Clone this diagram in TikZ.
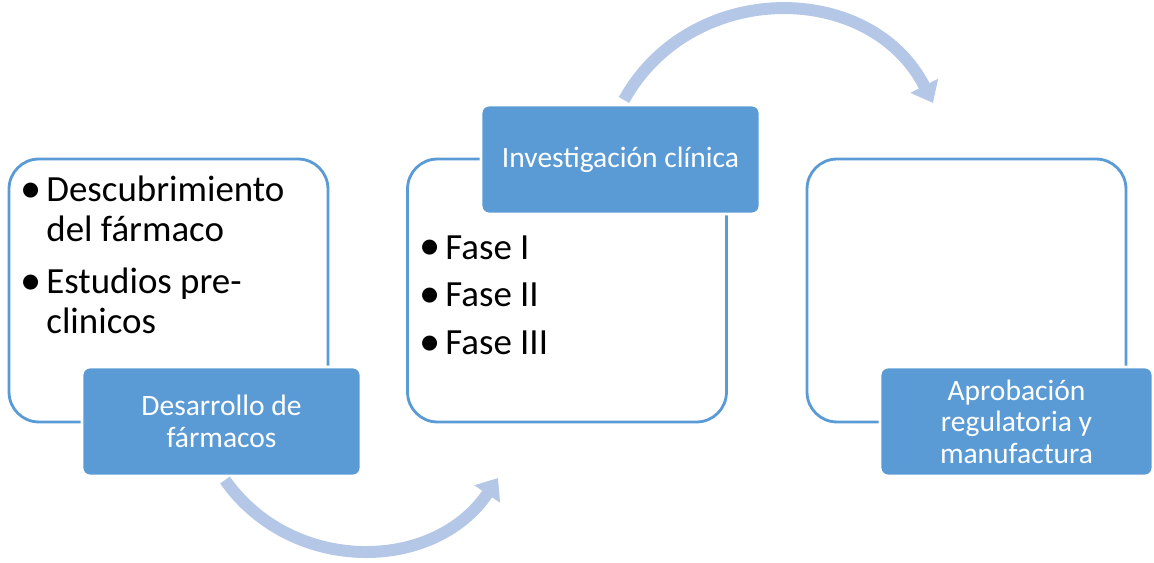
\documentclass[tikz,border=0pt]{standalone}
\usepackage{fontspec}
\usepackage{graphicx}
\setmainfont{Carlito}
\usetikzlibrary{arrows.meta, positioning, calc}
\definecolor{stepblue}{HTML}{5B9BD5}
\definecolor{flowblue}{HTML}{B4C7E7}
\newcommand{\bitem}[1]{\makebox[12pt][l]{\kern-2.5pt\raisebox{-0.5pt}{\scalebox{1.15}{\textbullet}}}\parbox[t]{5.2cm}{\raggedright #1}}

\begin{document}
\begin{tikzpicture}[x=0.02cm, y=0.02cm,
    outerbox/.style={draw=stepblue, line width=1.6pt, rounded corners=17pt,
        minimum width=6.38cm, minimum height=5.26cm},
    labelbox/.style={fill=stepblue, draw=white, line width=1.6pt, rounded corners=4.5pt,
        minimum width=5.58cm, minimum height=2.18cm, text=white, align=center,
        font=\fontsize{16.8}{18}\selectfont},
    bullets/.style={anchor=north west, inner sep=0pt, align=left,
        font=\fontsize{21}{22.7}\selectfont},
    flow/.style={draw=flowblue, line width=6.8pt, -{Triangle[width=17pt,length=11pt]}}]
\useasboundingbox (0,0) rectangle (1154,562);

% the three stages
\node[outerbox] (box1) at (168.5,271.5) {};
\node[outerbox] (box2) at (567,271.5) {};
\node[outerbox] (box3) at (966.5,271.5) {};

\node[labelbox] (lab1) at (221.5,140.5) {Desarrollo de\\fármacos};
\node[labelbox] (lab2) at (620.5,402.5) {Investigación clínica};
\node[labelbox, minimum width=5.46cm] (lab3) at (1016.5,140.5) {Aprobación\\regulatoria y\\manufactura};

\node[bullets] (list1) at (25,386) {%
    \bitem{Descubrimiento\\del fármaco}\\[13.8pt]
    \bitem{Estudios pre-\\clinicos}};
\node[bullets] (list2) at (424,327) {%
    \bitem{Fase I}\\[4.5pt]
    \bitem{Fase II}\\[4.5pt]
    \bitem{Fase III}};

% arrows between stages
\coordinate (f1) at (225,82);
\coordinate (t1) at (498,84);
\coordinate (f2) at (624,462);
\coordinate (t2) at (933,459);
\draw[flow] (f1) .. controls +(305:115) and +(236:115) .. (t1);
\draw[flow] (f2) .. controls +(61:138) and +(117:138) .. (t2);
\end{tikzpicture}
\end{document}
